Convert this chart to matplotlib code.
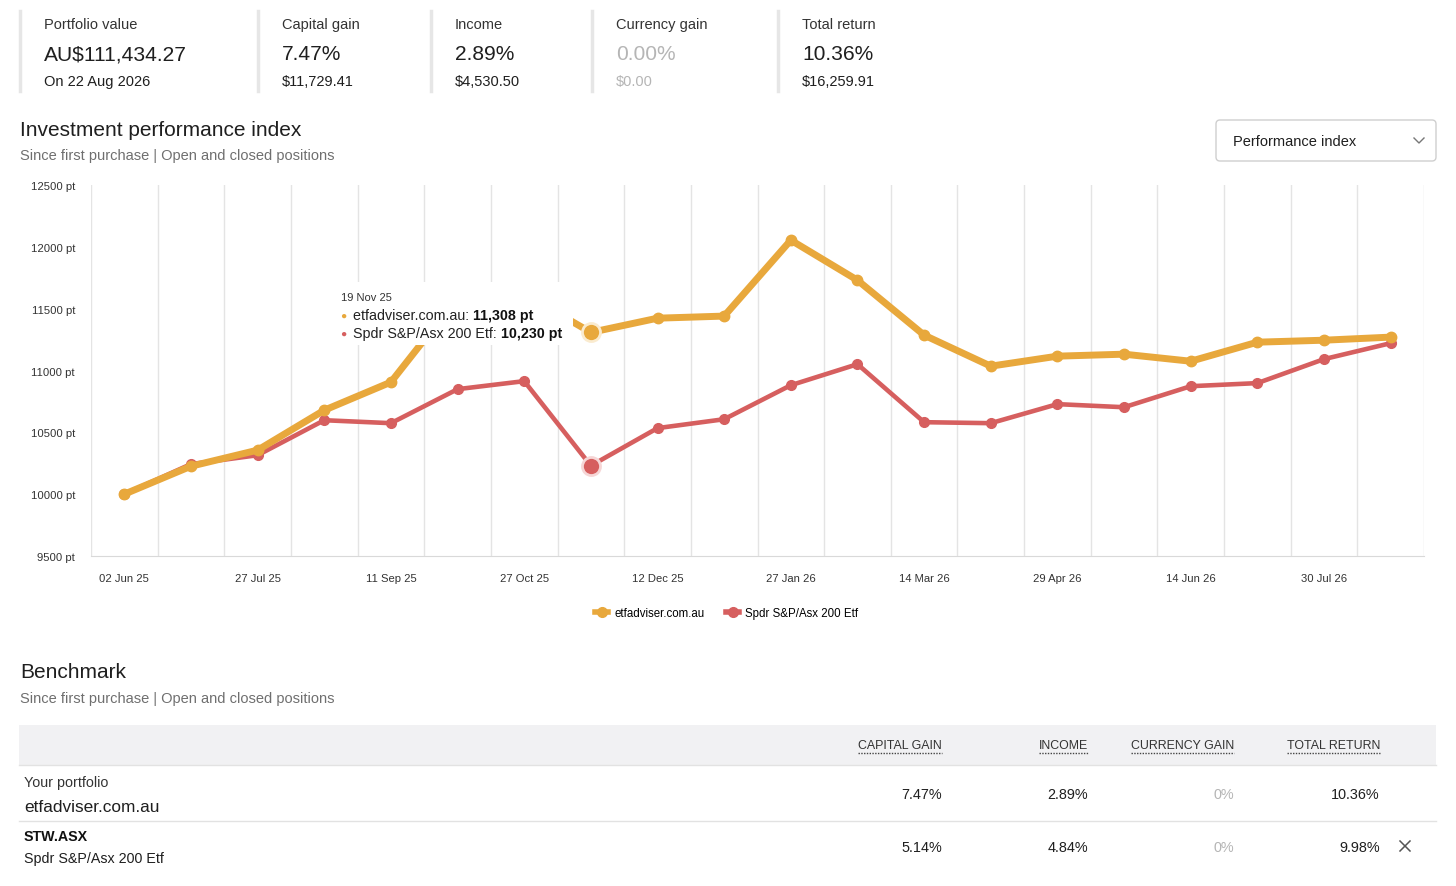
import matplotlib
matplotlib.use("Agg")
import numpy as np
import matplotlib.pyplot as plt
from matplotlib.lines import Line2D
from matplotlib.patches import Rectangle, FancyBboxPatch
from matplotlib.transforms import IdentityTransform

plt.rcParams["font.family"] = ["Liberation Sans", "DejaVu Sans"]

W, H = 1456, 887

# --- data -------------------------------------------------------------
tick_labels = ["02 Jun 25", "27 Jul 25", "11 Sep 25", "27 Oct 25", "12 Dec 25",
               "27 Jan 26", "14 Mar 26", "29 Apr 26", "14 Jun 26", "30 Jul 26"]
portfolio = [10000, 10226, 10356, 10679, 10906, 11590, 11620, 11308, 11423, 11440,
             12054, 11730, 11286, 11035, 11116, 11132, 11075, 11229, 11245, 11270]
benchmark = [10000, 10243, 10315, 10598, 10574, 10849, 10914, 10230, 10534, 10606,
             10881, 11051, 10582, 10574, 10728, 10703, 10873, 10898, 11092, 11221]
series_names = ["etfadviser.com.au", "Spdr S&P/Asx 200 Etf"]
hover_idx = 7
hover_date = "19 Nov 25"

card_labels = ["Portfolio value", "Capital gain", "Income", "Currency gain", "Total return"]
card_values = ["AU$111,434.27", "7.47%", "2.89%", "0.00%", "10.36%"]
card_subs = ["On 22 Aug 2026", "$11,729.41", "$4,530.50", "$0.00", "$16,259.91"]

table_cols = ["CAPITAL GAIN", "INCOME", "CURRENCY GAIN", "TOTAL RETURN"]
row_portfolio = ["7.47%", "2.89%", "0%", "10.36%"]
row_benchmark = ["5.14%", "4.84%", "0%", "9.98%"]

yellow = "#e8a83c"
red = "#d65f5f"
dark = "#1f1f1f"
grey = "#6f6f6f"
light = "#b5b5b5"


def fx(x):
    return x / W


def fy(y):
    return 1 - y / H


def ty(y):
    # text centres sit about a pixel high, nudge them down
    return 1 - (y + 1) / H


fig = plt.figure(figsize=(W / 100, H / 100), dpi=100)

# --- KPI cards --------------------------------------------------------
sep_x = [20, 258, 431, 592, 778]
for i, sx in enumerate(sep_x):
    fig.add_artist(Line2D([fx(sx), fx(sx)], [fy(12), fy(92)], color="#e6e6e6", lw=2.5))
    c = light if card_labels[i] == "Currency gain" else dark
    fig.text(fx(sx + 24), ty(24), card_labels[i], fontsize=10.5, color="#333333", va="center")
    fig.text(fx(sx + 24), ty(54), card_values[i], fontsize=15.1, color=c, va="center")
    fig.text(fx(sx + 24), ty(81), card_subs[i], fontsize=10.5, color=c, va="center")

# --- section title ----------------------------------------------------
fig.text(fx(20), ty(129), "Investment performance index", fontsize=15, color=dark, va="center")
fig.text(fx(20), ty(155), "Since first purchase | Open and closed positions",
         fontsize=10.5, color=grey, va="center")

# dropdown
box = FancyBboxPatch((1216, H - 162), 220, 41, boxstyle="round,pad=0,rounding_size=4",
                     transform=IdentityTransform(), facecolor="white",
                     edgecolor="#cfcfcf", lw=1)
fig.add_artist(box)
fig.text(fx(1233), ty(141), "Performance index", fontsize=10.5, color=dark, va="center")
fig.add_artist(Line2D([fx(1414), fx(1419), fx(1424)], [fy(139), fy(144), fy(139)],
                      color="#777777", lw=1))

# --- chart ------------------------------------------------------------
ax = fig.add_axes([fx(91), fy(557), (1424 - 91) / W, (557 - 186) / H])
x = np.arange(len(portfolio))
ax.plot(x, benchmark, color=red, lw=3.3, marker="o", ms=7, zorder=3)
ax.plot(x, portfolio, color=yellow, lw=5, marker="o", ms=7.5, zorder=4)
ax.plot(hover_idx, benchmark[hover_idx], "o", ms=13, mfc=red, mec="#f6d6d6", mew=2, zorder=6)
ax.plot(hover_idx, portfolio[hover_idx], "o", ms=13, mfc=yellow, mec="#faebcf", mew=2, zorder=6)

ax.set_xlim(-0.5, len(portfolio) - 0.5)
ax.set_ylim(9500, 12500)
ax.set_xticks(x[::2], tick_labels)
ax.set_xticks(np.arange(-0.5, len(portfolio), 1), minor=True)
yt = np.arange(9500, 12501, 500)
ax.set_yticks(yt, [f"{v} pt" for v in yt])
ax.grid(which="minor", axis="x", color="#e4e4e4", lw=1)
ax.tick_params(which="both", length=0)
ax.tick_params(axis="y", pad=11.5, labelsize=8.1, labelcolor="#333333")
ax.tick_params(axis="x", pad=12.5, labelsize=8.1, labelcolor="#333333")
for s in ["top", "left", "right"]:
    ax.spines[s].set_visible(False)
ax.spines["bottom"].set_color("#d9d9d9")

# tooltip
fig.add_artist(Rectangle((fx(333), fy(346)), fx(573) - fx(333), fy(283) - fy(346),
                         facecolor="white", edgecolor="none", zorder=5))
fig.text(fx(341), ty(297), hover_date, fontsize=8, color="#333333", va="center", zorder=6)
for k, (name, val, col) in enumerate(zip(series_names,
                                         [portfolio[hover_idx], benchmark[hover_idx]],
                                         [yellow, red])):
    yy = 315 + k * 18
    fig.text(fx(340), ty(yy), "\u25cf", fontsize=7.5, color=col, va="center", zorder=6)
    t = fig.text(fx(353), ty(yy), f"{name}: ", fontsize=10.3, color="#222222",
                 va="center", zorder=6)
    fig.add_artist(matplotlib.text.Annotation(f"{val:,} pt", xy=(1, 0.5), xycoords=t,
                                              va="center", ha="left", fontsize=10.3,
                                              weight="bold", color="#111111", zorder=6))

# legend
handles = [Line2D([], [], color=yellow, lw=4, marker="o", ms=7),
           Line2D([], [], color=red, lw=4, marker="o", ms=7)]
fig.legend(handles, series_names, loc="center", bbox_to_anchor=(fx(727), ty(613)),
           ncol=2, frameon=False, fontsize=8.3, handlelength=1.1, handletextpad=0.55,
           columnspacing=1.9)

# --- benchmark table --------------------------------------------------
fig.text(fx(20), ty(672), "Benchmark", fontsize=15, color=dark, va="center")
fig.text(fx(20), ty(698), "Since first purchase | Open and closed positions",
         fontsize=10.5, color=grey, va="center")

fig.add_artist(Rectangle((fx(19), fy(766)), fx(1436) - fx(19), fy(726) - fy(766),
                         facecolor="#f1f1f3", edgecolor="none", zorder=0))
fig.add_artist(Line2D([fx(19), fx(1436)], [fy(766), fy(766)], color="#e2e2e2", lw=1))
fig.add_artist(Line2D([fx(19), fx(1436)], [fy(822), fy(822)], color="#e2e2e2", lw=1))

col_right = [942, 1088, 1234, 1380]
head_texts = []
for cx, name in zip(col_right, table_cols):
    head_texts.append(fig.text(fx(cx), ty(745), name, fontsize=8.9, color="#333333",
                               ha="right", va="center"))

fig.text(fx(24), ty(782), "Your portfolio", fontsize=10.3, color="#333333", va="center")
fig.text(fx(24), ty(807), series_names[0], fontsize=12.4, color=dark, va="center")
fig.text(fx(24), ty(836), "STW.ASX", fontsize=10.3, weight="bold", color="#111111", va="center")
fig.text(fx(24), ty(858), series_names[1], fontsize=10.3, color=dark, va="center")

for cx, v1, v2 in zip(col_right, row_portfolio, row_benchmark):
    c = light if v1 == "0%" else dark
    fig.text(fx(cx), ty(794), v1, fontsize=10.4, color=c, ha="right", va="center")
    fig.text(fx(cx), ty(847), v2, fontsize=10.4, color=c, ha="right", va="center")

# close cross
fig.add_artist(Line2D([fx(1400), fx(1410)], [fy(842), fy(852)], color="#555555", lw=1.1))
fig.add_artist(Line2D([fx(1400), fx(1410)], [fy(852), fy(842)], color="#555555", lw=1.1))

# dotted underline under column headers
fig.canvas.draw()
for t in head_texts:
    bb = t.get_window_extent()
    yline = (bb.y0 - 2) / H
    fig.add_artist(Line2D([bb.x0 / W, bb.x1 / W], [yline, yline], color="#444444",
                          lw=1, linestyle=(0, (1, 1))))

fig.savefig("out.png", dpi=100, facecolor="white")
